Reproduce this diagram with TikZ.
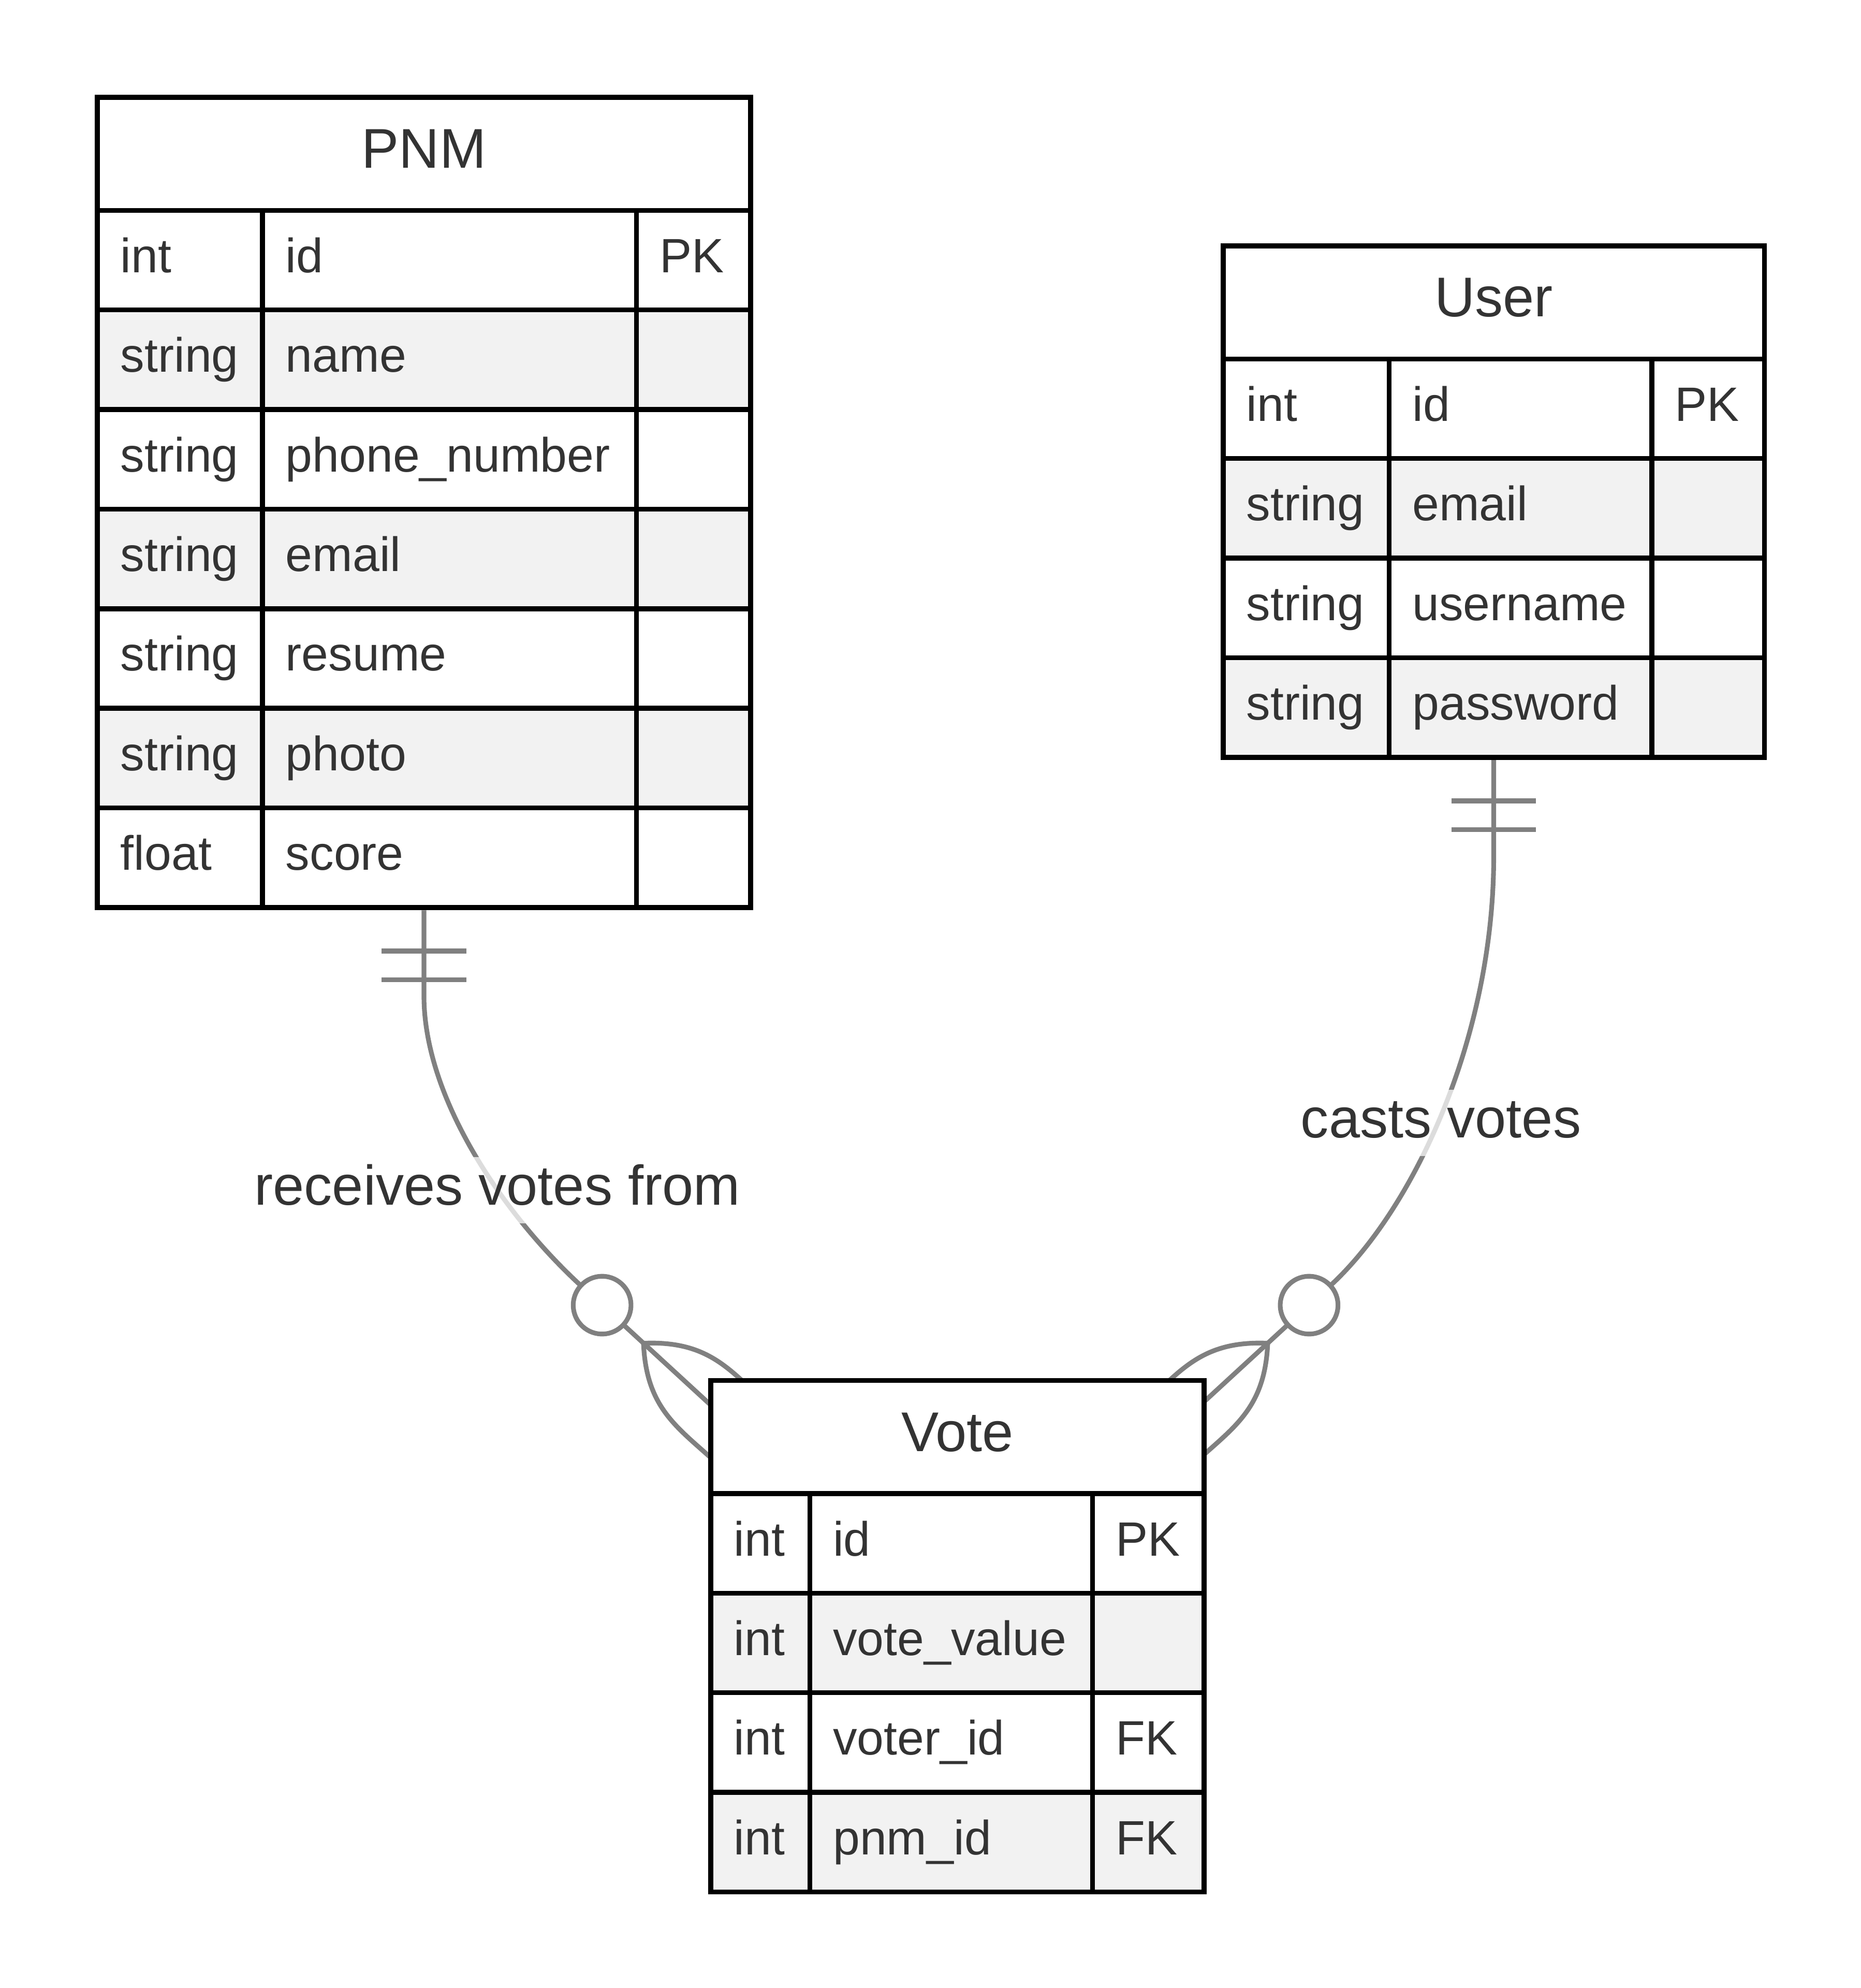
\documentclass[tikz,border=0pt]{standalone}
\usepackage{fontspec}
\setmainfont{Liberation Sans}
\usetikzlibrary{positioning,calc,fit,backgrounds}
\definecolor{ink}{HTML}{333333}
\definecolor{rowgray}{HTML}{F2F2F2}
\definecolor{linkgray}{HTML}{808080}
\tikzset{
  attrfont/.style={font=\fontsize{26.6pt}{32pt}\selectfont},
  headfont/.style={font=\fontsize{30.9pt}{37pt}\selectfont},
  cell/.style={draw=black, line width=2.7pt, anchor=north west, minimum height=1.93cm,
    inner xsep=0.45cm, inner ysep=0pt, text width=#1, align=left,
    text height=19.2pt, text depth=5.6pt, text=ink, attrfont},
  tablehead/.style={draw=black, line width=2.7pt, anchor=north west, minimum height=2.19cm,
    minimum width=#1, inner sep=0pt, text height=22.2pt, text depth=6.5pt,
    text=ink, headfont, fill=white},
  relline/.style={draw=linkgray, line width=2.6pt},
  rellabel/.style={text=ink, headfont, fill=white, fill opacity=0.73, text opacity=1,
    inner sep=0pt, text height=26.3pt, text depth=10.2pt, anchor=base},
}
\begin{document}
\begin{tikzpicture}
  \pgfmathsetmacro{\headH}{2.19}
  \pgfmathsetmacro{\rowH}{1.93}
  \begin{scope}[on background layer]
    \fill[white] (0,0) rectangle (36.07,-38.53);
  \end{scope}
  \useasboundingbox (0,0) rectangle (36.07,-38.53);

  % PNM table
  \begin{scope}[shift={(1.84,-1.84)}]
    \node[tablehead=12.66cm] (pnm-head) at (0,0) {PNM};
    \foreach \ty/\nm/\ky [count=\i] in {int/id/PK, string/name/{}, string/phone\_number/{},
        string/email/{}, string/resume/{}, string/photo/{}, float/score/{}} {
      \pgfmathsetmacro{\rowY}{-\headH-\rowH*(\i-1)}
      \ifodd\i \def\rowfill{white}\else \def\rowfill{rowgray}\fi
      \node[cell=2.30cm, fill=\rowfill] (pnm-\i-t) at (0,\rowY) {\ty};
      \node[cell=6.35cm, fill=\rowfill] (pnm-\i-n) at (3.20,\rowY) {\nm};
      \node[cell=1.31cm, fill=\rowfill] (pnm-\i-k) at (10.45,\rowY) {\ky};
    }
  \end{scope}
  \node[fit=(pnm-head)(pnm-7-k), inner sep=0pt] (pnm) {};

  % User table
  \begin{scope}[shift={(23.66,-4.72)}]
    \node[tablehead=10.49cm] (user-head) at (0,0) {User};
    \foreach \ty/\nm/\ky [count=\i] in {int/id/PK, string/email/{}, string/username/{},
        string/password/{}} {
      \pgfmathsetmacro{\rowY}{-\headH-\rowH*(\i-1)}
      \ifodd\i \def\rowfill{white}\else \def\rowfill{rowgray}\fi
      \node[cell=2.32cm, fill=\rowfill] (user-\i-t) at (0,\rowY) {\ty};
      \node[cell=4.19cm, fill=\rowfill] (user-\i-n) at (3.22,\rowY) {\nm};
      \node[cell=1.28cm, fill=\rowfill] (user-\i-k) at (8.31,\rowY) {\ky};
    }
  \end{scope}
  \node[fit=(user-head)(user-4-k), inner sep=0pt] (user) {};

  % Vote table
  \begin{scope}[shift={(13.73,-26.71)}]
    \node[tablehead=9.56cm] (vote-head) at (0,0) {Vote};
    \foreach \ty/\nm/\ky [count=\i] in {int/id/PK, int/vote\_value/{}, int/voter\_id/FK,
        int/pnm\_id/FK} {
      \pgfmathsetmacro{\rowY}{-\headH-\rowH*(\i-1)}
      \ifodd\i \def\rowfill{white}\else \def\rowfill{rowgray}\fi
      \node[cell=1.02cm, fill=\rowfill] (vote-\i-t) at (0,\rowY) {\ty};
      \node[cell=4.58cm, fill=\rowfill] (vote-\i-n) at (1.92,\rowY) {\nm};
      \node[cell=1.26cm, fill=\rowfill] (vote-\i-k) at (7.40,\rowY) {\ky};
    }
  \end{scope}
  \node[fit=(vote-head)(vote-4-k), inner sep=0pt] (vote) {};

  \coordinate (crow-l) at ($(vote.north west)+(-1.25,0.67)$);
  \coordinate (crow-r) at ($(vote.north east)+(1.18,0.67)$);

  % relationships, behind the tables
  \begin{scope}[on background layer]
    \begin{scope}[shift={(crow-l)}, rotate=-42.6]
      \draw[relline] (0,0) .. controls (0.9,0.9) and (1.6,0.75) .. (2.6,0.75);
      \draw[relline] (0,0) .. controls (0.9,-0.9) and (1.6,-0.75) .. (2.6,-0.75);
      \draw[relline] (-0.53,0) -- (2.6,0);
      \draw[relline] (-1.09,0) circle (0.56);
      \coordinate (ring-l) at (-1.65,0);
    \end{scope}
    \begin{scope}[shift={(crow-r)}, rotate=-137.4]
      \draw[relline] (0,0) .. controls (0.9,0.9) and (1.6,0.75) .. (2.6,0.75);
      \draw[relline] (0,0) .. controls (0.9,-0.9) and (1.6,-0.75) .. (2.6,-0.75);
      \draw[relline] (-0.53,0) -- (2.6,0);
      \draw[relline] (-1.09,0) circle (0.56);
      \coordinate (ring-r) at (-1.65,0);
    \end{scope}
    % PNM side
    \draw[relline] (pnm.south) -- ++(0,-1.66)
      .. controls +(0,-2.0) and ($(ring-l)+(-1.47,1.35)$) .. (ring-l);
    \draw[relline] ($(pnm.south)+(-0.82,-0.79)$) -- ++(1.64,0);
    \draw[relline] ($(pnm.south)+(-0.82,-1.35)$) -- ++(1.64,0);
    % User side
    \draw[relline] (user.south) -- ++(0,-1.87)
      .. controls +(0,-3.5) and ($(ring-r)+(1.62,1.49)$) .. (ring-r);
    \draw[relline] ($(user.south)+(-0.82,-0.79)$) -- ++(1.64,0);
    \draw[relline] ($(user.south)+(-0.82,-1.35)$) -- ++(1.64,0);
  \end{scope}

  \node[rellabel] (lbl-receives) at (9.64,-23.35) {receives votes from};
  \node[rellabel] (lbl-casts) at (27.93,-22.05) {casts votes};
\end{tikzpicture}
\end{document}
